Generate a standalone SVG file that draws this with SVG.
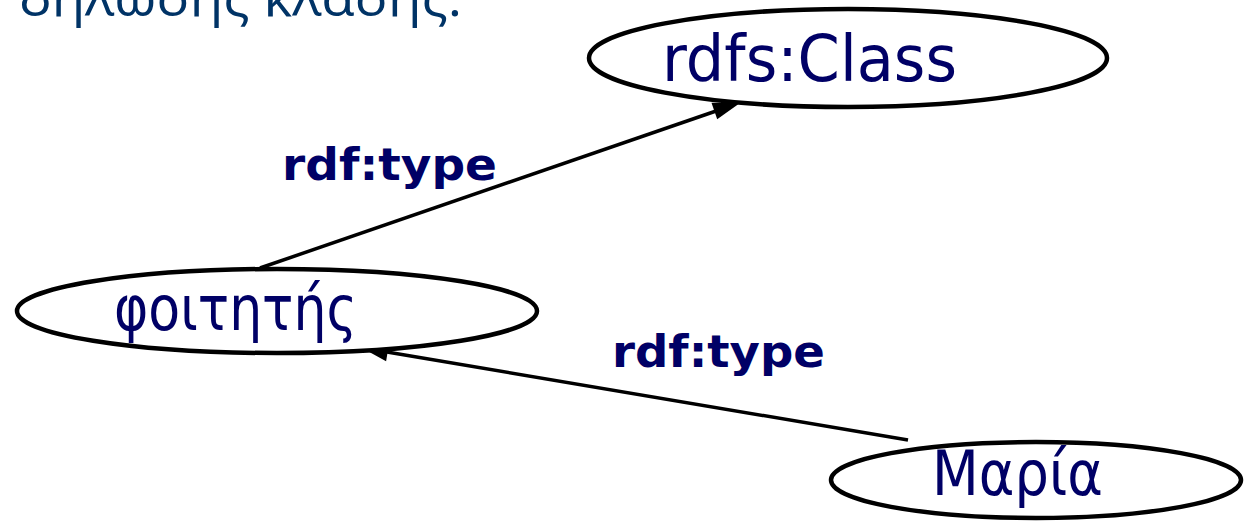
<svg xmlns="http://www.w3.org/2000/svg" width="1244" height="521" viewBox="0 0 1244 521">
<style>
.node{fill:#fff;stroke:#000;stroke-width:4.5}
.nt{fill:#000066;font-family:"DejaVu Sans","Noto Sans",sans-serif}
.lbl{fill:#000066;font-family:"DejaVu Sans","Noto Sans",sans-serif;font-weight:bold;font-size:44px}
.edge{stroke:#000;stroke-width:3.5;fill:none}
.head{fill:#000}
</style>
<rect width="1244" height="521" fill="#fff"/>
<text x="19" y="16" font-family="'Open Sans','Noto Sans',sans-serif" font-size="52" fill="#003366" textLength="443" lengthAdjust="spacingAndGlyphs">δήλωσης κλάσης:</text>
<g id="connectors">
<path class="edge" d="M260,268 L719,110"/>
<path class="head" d="M740,103 L717.2,119.3 L711.5,102.7 z"/>
<path class="edge" d="M908,440 L387,352"/>
<path class="head" d="M362,348 L389.1,343.4 L386.1,361.2 z"/>
</g>
<g id="label1"><text class="lbl" x="282" y="180" textLength="215" lengthAdjust="spacingAndGlyphs">rdf:type</text></g>
<g id="label2"><text class="lbl" x="612" y="367" textLength="213" lengthAdjust="spacingAndGlyphs">rdf:type</text></g>
<g id="rdfsClass">
<ellipse class="node" cx="848" cy="58" rx="259" ry="49"/>
<text class="nt" x="662" y="81" font-size="64" textLength="295" lengthAdjust="spacingAndGlyphs">rdfs:Class</text>
</g>
<g id="foititis">
<ellipse class="node" cx="277" cy="311" rx="260" ry="42"/>
<text class="nt" x="114" y="330" font-size="62" textLength="243" lengthAdjust="spacingAndGlyphs">φοιτητής</text>
</g>
<g id="maria">
<ellipse class="node" cx="1036" cy="480" rx="205" ry="38"/>
<text class="nt" x="932" y="495" font-size="62" textLength="171" lengthAdjust="spacingAndGlyphs">Μαρία</text>
</g>
</svg>
